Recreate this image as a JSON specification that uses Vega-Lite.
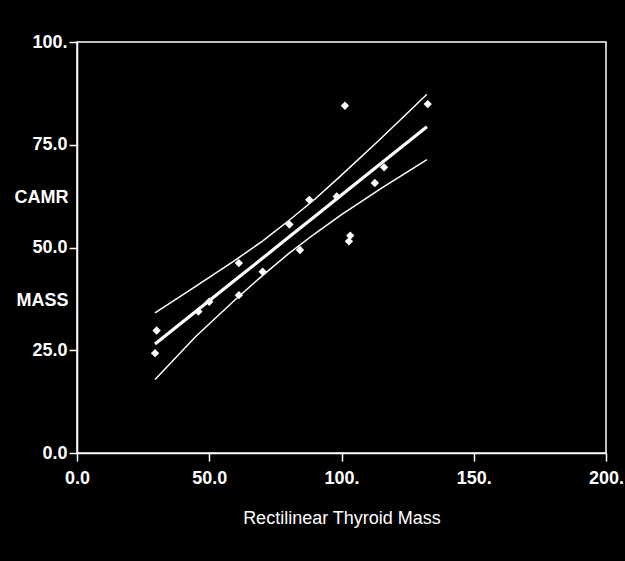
{
  "$schema": "https://vega.github.io/schema/vega-lite/v6.json",
  "width": 529,
  "height": 411,
  "autosize": {"type": "none"},
  "padding": {"left": 77, "top": 42, "right": 19, "bottom": 108},
  "background": "black",
  "config": {
    "view": {"stroke": "white", "strokeWidth": 1.5},
    "axis": {
      "grid": false,
      "domainColor": "white",
      "domainWidth": 1.5,
      "tickColor": "white",
      "tickWidth": 1.5,
      "tickSize": 8,
      "labelColor": "white",
      "labelFont": "Liberation Sans",
      "labelFontSize": 18,
      "labelFontWeight": "bold",
      "labelFlush": false,
      "labelOverlap": false,
      "titleColor": "white",
      "titleFont": "Liberation Sans",
      "titleFontSize": 18
    }
  },
  "datasets": {
    "points": [
      {"x": 29.5, "y": 24.3},
      {"x": 30.1, "y": 29.8},
      {"x": 45.9, "y": 34.4},
      {"x": 50.0, "y": 36.8},
      {"x": 61.2, "y": 38.4},
      {"x": 61.2, "y": 46.2},
      {"x": 70.2, "y": 44.1},
      {"x": 80.3, "y": 55.6},
      {"x": 84.3, "y": 49.4},
      {"x": 87.8, "y": 61.6},
      {"x": 98.2, "y": 62.4},
      {"x": 101.3, "y": 84.5},
      {"x": 102.8, "y": 51.5},
      {"x": 103.3, "y": 52.9},
      {"x": 112.6, "y": 65.7},
      {"x": 116.1, "y": 69.5},
      {"x": 132.6, "y": 84.9}
    ],
    "fit": [
      {"x": 29.5, "fit": 26.5, "lower": 17.9, "upper": 34.1},
      {"x": 45, "fit": 34.5, "lower": 28.4, "upper": 40.6},
      {"x": 60, "fit": 42.2, "lower": 37.4, "upper": 47.0},
      {"x": 70, "fit": 47.3, "lower": 43.1, "upper": 51.5},
      {"x": 80, "fit": 52.5, "lower": 48.5, "upper": 56.5},
      {"x": 90, "fit": 57.6, "lower": 53.4, "upper": 61.8},
      {"x": 100, "fit": 62.8, "lower": 58.0, "upper": 67.6},
      {"x": 115, "fit": 70.5, "lower": 64.4, "upper": 76.6},
      {"x": 132.3, "fit": 79.4, "lower": 71.4, "upper": 87.3}
    ]
  },
  "layer": [
    {
      "data": {"name": "fit"},
      "mark": {"type": "line", "color": "white", "strokeWidth": 1.5},
      "encoding": {
        "x": {
          "field": "x", "type": "quantitative",
          "scale": {"domain": [0, 200], "nice": false, "zero": false},
          "axis": {
            "values": [0, 50, 100, 150, 200],
            "labelExpr": "datum.value >= 100 ? datum.value + '.' : format(datum.value, '.1f')",
            "labelPadding": 8,
            "title": "Rectilinear Thyroid Mass",
            "titleFontWeight": "normal",
            "titleBaseline": "alphabetic",
            "titleY": 70
          }
        },
        "y": {
          "field": "upper", "type": "quantitative",
          "scale": {"domain": [0, 100], "nice": false, "zero": false},
          "axis": {
            "values": [0, 25, 50, 75, 100],
            "labelExpr": "datum.value >= 100 ? datum.value + '.' : format(datum.value, '.1f')",
            "labelPadding": 2,
            "title": ["CAMR", "MASS"],
            "titleAngle": 0,
            "titleAlign": "right",
            "titleBaseline": "alphabetic",
            "titleFontWeight": "bold",
            "titleX": -9,
            "titleY": 160,
            "titleLineHeight": 103
          }
        }
      }
    },
    {
      "data": {"name": "fit"},
      "mark": {"type": "line", "color": "white", "strokeWidth": 1.5},
      "encoding": {
        "x": {"field": "x", "type": "quantitative"},
        "y": {"field": "lower", "type": "quantitative"}
      }
    },
    {
      "data": {"name": "fit"},
      "mark": {"type": "line", "color": "white", "strokeWidth": 3.2},
      "encoding": {
        "x": {"field": "x", "type": "quantitative"},
        "y": {"field": "fit", "type": "quantitative"}
      }
    },
    {
      "data": {"name": "points"},
      "mark": {"type": "point", "shape": "diamond", "filled": true, "color": "white", "opacity": 1, "size": 70},
      "encoding": {
        "x": {"field": "x", "type": "quantitative"},
        "y": {"field": "y", "type": "quantitative"}
      }
    }
  ]
}
